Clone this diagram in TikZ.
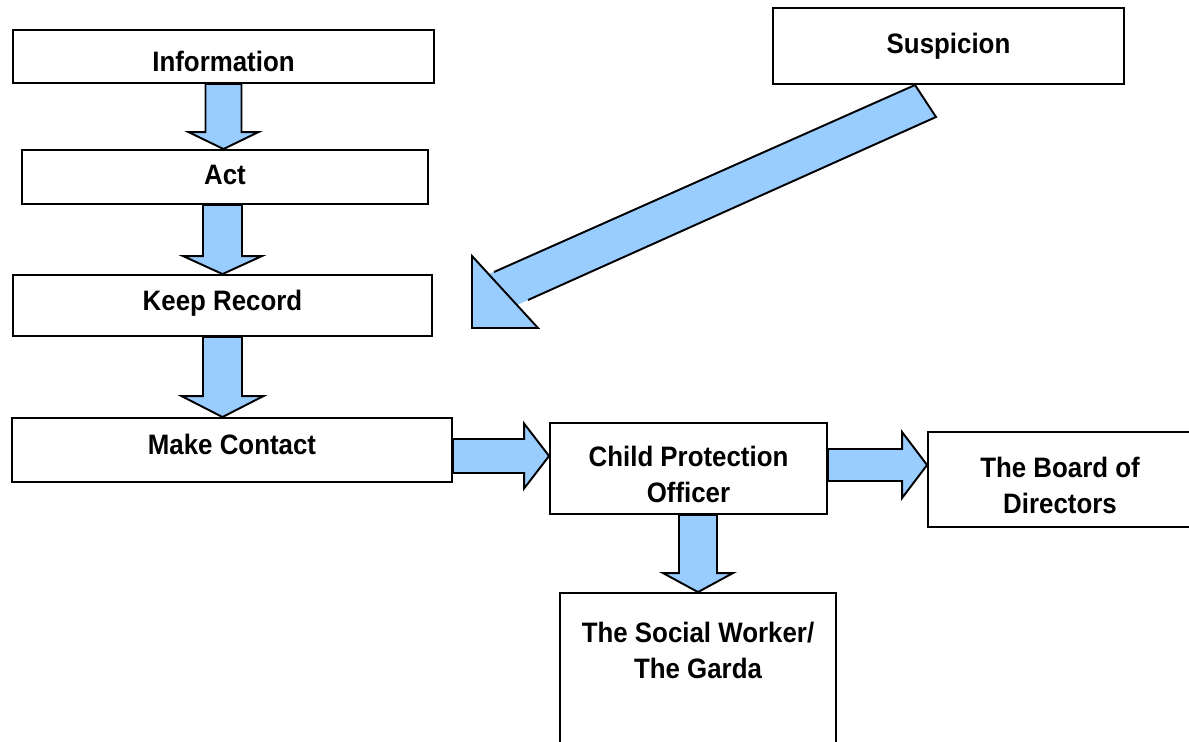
\documentclass[tikz,border=0pt]{standalone}
\usepackage{fontspec}
\setmainfont{Liberation Sans}[FakeStretch = 0.92]
\usetikzlibrary{calc}
\definecolor{arrowblue}{HTML}{99CCFF}

\begin{document}
\begin{tikzpicture}[x = 0.02cm, y = -0.02cm,
Shaft/.store in = \ArrShaft,
Head/.store in = \ArrHead,
HeadLen/.store in = \ArrLen]
\tikzstyle{BoxStyle}=[
shape = rectangle,
draw,
line width = 1.1pt,
inner sep = 0pt,
align = center,
font = \fontsize{16}{20.5}\selectfont\bfseries,
text height = 12pt,
text depth = 3pt]
\tikzstyle{ArrowStyle}=[
draw,
fill = arrowblue,
line width = 1.1pt,
to path = {($(\tikztostart)!\ArrShaft!90:(\tikztotarget)$)
-- ($(\tikztotarget)!\ArrLen!(\tikztostart)!\ArrShaft!-90:(\tikztostart)$)
-- ($(\tikztotarget)!\ArrLen!(\tikztostart)!\ArrHead!-90:(\tikztostart)$)
-- (\tikztotarget)
-- ($(\tikztotarget)!\ArrLen!(\tikztostart)!\ArrHead!90:(\tikztostart)$)
-- ($(\tikztotarget)!\ArrLen!(\tikztostart)!\ArrShaft!90:(\tikztostart)$)
-- ($(\tikztostart)!\ArrShaft!-90:(\tikztotarget)$) -- cycle}]
\useasboundingbox (0,0) rectangle (1189,741);
\clip (0,0) rectangle (1189,741);
\node[BoxStyle, minimum width = 8.42cm, minimum height = 1.06cm, text height = 17pt, text depth = 0pt] (info) at (223.5,56.5) {Information};
\node[BoxStyle, minimum width = 8.12cm, minimum height = 1.08cm] (act) at (225,177) {Act};
\node[BoxStyle, minimum width = 8.38cm, minimum height = 1.22cm, text depth = 6.7pt] (record) at (222.5,305.5) {Keep Record};
\node[BoxStyle, minimum width = 8.80cm, minimum height = 1.28cm, text depth = 6.7pt] (contact) at (232,450) {Make Contact};
\node[BoxStyle, minimum width = 7.02cm, minimum height = 1.52cm] (suspicion) at (948.5,46) {Suspicion};
\node[BoxStyle, minimum width = 5.54cm, minimum height = 1.82cm, text height = 38.8pt, text depth = 0pt] (cpo) at (688.5,468.5) {Child Protection\\Officer};
\node[BoxStyle, minimum width = 5.28cm, minimum height = 1.9cm, text height = 38.2pt, text depth = 0pt] (board) at (1060,479.5) {The Board of\\Directors};
\node[BoxStyle, minimum width = 5.52cm, minimum height = 3.54cm, text height = 32.5pt, text depth = 36.3pt] (social) at (698,681.5) {The Social Worker/\\The Garda};
\draw[ArrowStyle, Shaft = 0.36cm, Head = 0.7cm, HeadLen = 0.34cm] (info.south) to (info.south |- act.north);
\draw[ArrowStyle, Shaft = 0.39cm, Head = 0.79cm, HeadLen = 0.36cm] (record.north |- act.south) to (record.north);
\draw[ArrowStyle, Shaft = 0.39cm, Head = 0.82cm, HeadLen = 0.42cm] (record.south) to (record.south |- contact.north);
\draw[ArrowStyle, Shaft = 0.34cm, Head = 0.65cm, HeadLen = 0.5cm] (contact.east |- 0,456) to (cpo.west |- 0,456);
\draw[ArrowStyle, Shaft = 0.32cm, Head = 0.66cm, HeadLen = 0.5cm] (cpo.east |- 0,465) to (board.west |- 0,465);
\draw[ArrowStyle, Shaft = 0.38cm, Head = 0.7cm, HeadLen = 0.38cm] (social.north |- cpo.south) to (social.north);
\fill[arrowblue] (915,85) -- (489,274) -- (517,305) -- (936,117) -- cycle;
\draw[line width = 1.1pt] (494,272) -- (915,85) -- (936,117) -- (528,300);
\draw[line width = 1.1pt, fill = arrowblue] (472,256) -- (538,328) -- (472,328) -- cycle;
\end{tikzpicture}
\end{document}
